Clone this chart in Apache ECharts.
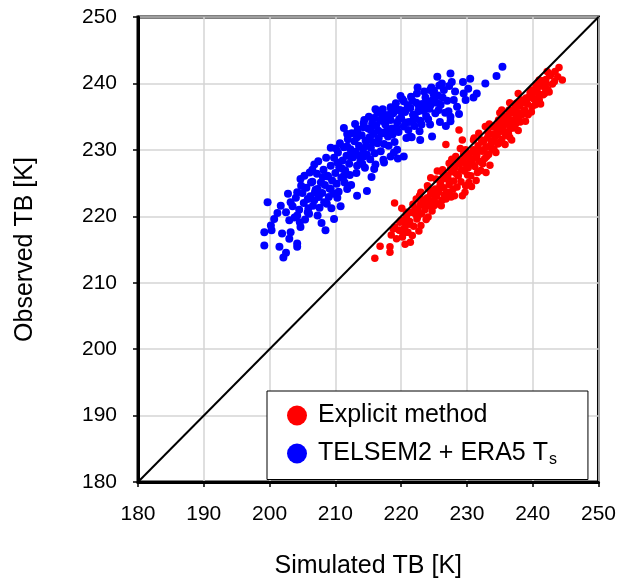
<!DOCTYPE html>
<html>
<head>
<meta charset="utf-8">
<script src="https://cdn.jsdelivr.net/npm/echarts@6/dist/echarts.min.js"></script>
<style>
    html, body { margin: 0; padding: 0; background: #fff; }
    #chart { width: 619px; height: 584px; }
</style>
</head>
<body>
<div id="chart"></div>
<script>
    // axis ticks
    var xTicks = [180, 190, 200, 210, 220, 230, 240, 250];
    var yTicks = [180, 190, 200, 210, 220, 230, 240, 250];

    // 1:1 line
    var diagX = [180, 250];
    var diagY = [180, 250];

    // Explicit method: [simulated, observed]
    var explicitPts = [
        [216, 213.7], [216.8, 215.5], [218.3, 215.4], [218.3, 214.6], [221.4, 216.1], [219, 222],
        [218.8, 218.1], [219.8, 217.9], [220.3, 217.4], [221, 217.6], [220.5, 219.1], [221.3, 220.6],
        [222.5, 221.1], [223, 223.6], [224.5, 225.8], [225.5, 226.8], [226.8, 230.8], [228.8, 233],
        [229.3, 231.5], [229.3, 223.1], [227.3, 223.6], [225.8, 224.1], [223.8, 222.6], [222.5, 219.9],
        [225, 221.6], [226.8, 222.6], [230.3, 225.1], [232.3, 228.1], [233.8, 230], [234.8, 231],
        [236.3, 232.5], [237.8, 234.5], [238.8, 236], [238.3, 237.5], [240.8, 237.3], [241.8, 238.5],
        [242, 240], [242.5, 241.5], [244, 242.4], [244.5, 240.5], [243.3, 240.3], [241, 240.5],
        [239.8, 239], [239.5, 238], [237.8, 238.5], [237.5, 237], [235.3, 236], [234.8, 234.5],
        [233.8, 233.5], [232.8, 233.5], [231.8, 232.5], [231, 231.5], [229.8, 230], [228.3, 229],
        [227.3, 228], [226.3, 227], [225.3, 225.6], [224, 224.6], [222.8, 223.1], [221.8, 221.8],
        [220.8, 220.6], [219.8, 219.1],
        [218.5, 217.2], [219, 218.4], [219.3, 216.6], [219.7, 217.9], [220, 219.4], [220.2, 216.9],
        [220.5, 218.2], [220.8, 220], [221, 217.6], [221.3, 219.2], [221.6, 220.6], [221.9, 218.5],
        [222.1, 221.1], [222.4, 219.6], [222.7, 217.8], [222.9, 221.7],
        [223.1, 220.4], [223.3, 222.3], [223.6, 221], [223.8, 219.5], [224, 222.8], [224.2, 221.6],
        [224.5, 223.4], [224.7, 220.8], [225, 222.5], [225.2, 224.1], [225.5, 221.9], [225.7, 223.6],
        [226, 225], [226.2, 222.4], [226.5, 224.3], [226.7, 225.7],
        [226.9, 223.5], [227.1, 226.2], [227.3, 224.8], [227.6, 222.9], [227.8, 226.7], [228, 225.3],
        [228.2, 227.4], [228.5, 224.4], [228.7, 226.1], [228.9, 227.9], [229.1, 225.2], [229.4, 228.4],
        [229.6, 226.8], [229.8, 224.6], [230, 228.9], [230.2, 227.3],
        [230.4, 229.4], [230.6, 226.1], [230.8, 228.1], [231, 230], [231.2, 227.5], [231.5, 229.1],
        [231.7, 230.6], [231.9, 228.3], [232.1, 226.9], [232.3, 229.8], [232.5, 231.2], [232.7, 228.7],
        [232.9, 230.4], [233.1, 231.8], [233.3, 229.3], [233.5, 227.7], [233.7, 231], [233.9, 232.4],
        [234.1, 230.1], [234.3, 232], [234.5, 233.2], [234.7, 230.9], [234.9, 232.7], [235.1, 234],
        [235.3, 231.6], [235.5, 233.4], [235.7, 234.6], [235.9, 232.2], [236.1, 233.9], [236.3, 235.3],
        [236.5, 231.9], [236.7, 234.5], [236.9, 235.9], [237.1, 233.3], [237.3, 236.3], [237.5, 234.8],
        [237.8, 232.9],
        [238, 236.6], [238.3, 235.2], [238.6, 237.1], [238.9, 234.3], [239.2, 236.9], [239.5, 237.9],
        [239.8, 235.7], [240.1, 238.6], [240.4, 236.8], [240.7, 239.2], [241, 237.5], [241.3, 239.8],
        [241.6, 238.3], [242, 240.6], [242.3, 239.1], [242.7, 241.2], [243, 239.9],
        [221.2, 218.8], [222.2, 220.3], [223.4, 221.9], [224.4, 222.2], [224.9, 223.9], [225.4, 223],
        [225.9, 224.6], [226.4, 225.8], [226.6, 223.2], [227.2, 225.5], [227.5, 227.1], [227.9, 224.1],
        [228.4, 226.4], [228.6, 228.3], [229.2, 227], [229.5, 229.4], [229.9, 227.8], [230.1, 226.2],
        [230.5, 228.6], [230.9, 229.7], [231.3, 228.8], [231.6, 226.6], [231.8, 229.9], [232.2, 231.5],
        [232.4, 227.9], [232.6, 230], [233, 229], [233.2, 232.6], [233.6, 230.7], [234, 231.4],
        [234.2, 233.6], [234.4, 229.6], [234.6, 232.3], [235, 231.2], [235.2, 233], [235.4, 235.1],
        [235.6, 232.8], [235.8, 230.8], [236, 234.3], [236.2, 232.6], [236.4, 236], [236.6, 233.2],
        [236.8, 231.5], [237, 234], [237.2, 235.5], [237.4, 233.9], [237.6, 236.9], [237.9, 235.6],
        [238.1, 234.2], [238.4, 237.4], [238.7, 235.8], [239, 237.8], [239.3, 235.3], [239.6, 238.6],
        [239.9, 236.5], [240.2, 237.6], [240.5, 239.7], [240.9, 238.4], [241.2, 236.9], [241.5, 240.4],
        [241.8, 239.4], [242.2, 241.8], [242.5, 238.7], [243.4, 241.8], [243.8, 241],
        [220.6, 215.8], [221.7, 217.1], [223, 218.6], [224.1, 219.9], [226.1, 221.6], [228.1, 223.1],
        [230.7, 224.5], [232.9, 226.6], [231.4, 225.4], [229.7, 223.6], [226.3, 226.6], [227.7, 228.6],
        [229, 230.2], [231.1, 231.8], [233.4, 233.9], [235, 235.6], [236.5, 237.1], [220.1, 221.2],
        [222.3, 222.6], [224.1, 224.2]
    ];

    // TELSEM2 + ERA5 Ts: [simulated, observed]
    var telsemPts = [
        [235.4, 242.5], [234.5, 241.1], [232.8, 240], [230.5, 240.7], [229.4, 240.2], [227.5, 241.5],
        [227.7, 240.2], [225.5, 241], [226.2, 240], [224.4, 239], [224.9, 238.5], [222.4, 238.5],
        [220.4, 237.3], [223.4, 236.8], [225.7, 236], [227.2, 235.8], [228.5, 236.5], [229.5, 238.5],
        [231.5, 238.5], [229.8, 237.5], [228, 237.5], [227.5, 234.3], [224.7, 232], [222.9, 231.5],
        [221.4, 232], [224.4, 233.8], [221.9, 234.5], [219.9, 235.8], [218.4, 234.5], [217.4, 235.3],
        [215.9, 234.8], [214.3, 234], [217.4, 232.5], [216.4, 231], [215.4, 233], [213.3, 232.5],
        [211.3, 233.3], [211.8, 230.5], [209.3, 230.3], [212.3, 229], [214.3, 229], [218.4, 229],
        [219.4, 230], [220.4, 229], [215.9, 227.1], [217.4, 228.1], [213.3, 227.6], [210.3, 228.1],
        [211.3, 226.1], [208.8, 226.1], [206.8, 227.8], [204.7, 225.6], [206.3, 225.1], [207.3, 224.1],
        [209.3, 224.1], [211.8, 224.1], [214.8, 223.8], [213.3, 223.1], [210.3, 222.8], [208.3, 222.1],
        [205.8, 222.6], [204.2, 223.6], [203.2, 222.1], [201.7, 221.6], [199.7, 222.1], [200.7, 219.6],
        [202.5, 220.6], [204.2, 220.1], [205.8, 220.6], [207.3, 220.1], [209.8, 219.6], [200.2, 218.6],
        [199.2, 217.6], [200.3, 217.9], [201.9, 217.4], [203.2, 217.6], [204.7, 218.4], [208.5, 217.9],
        [203, 216.6], [204.2, 215.9], [201.5, 215.4], [199.2, 215.6], [202.5, 214.5], [202.1, 213.8],
        [204.2, 215.4],
        [203.5, 221.5], [204, 222.8], [204.5, 221], [205, 223.5], [205.2, 222], [205.6, 224.3],
        [205.9, 221.2], [206.2, 223], [206.5, 225.2], [206.8, 222.4], [204.8, 224.6], [203.8, 219.8],
        [205.4, 219.5], [206, 220.4],
        [207, 224], [207.2, 226.4], [207.5, 222.9], [207.8, 225.1], [208, 223.5], [208.2, 227],
        [208.4, 224.7], [208.7, 221.9], [208.9, 226], [209.1, 224.2], [209.3, 227.6], [209.5, 225.4],
        [207.4, 228.3], [206.5, 227],
        [209.8, 228.8], [210, 226.5], [210.2, 224.9], [210.4, 229.6], [210.6, 227.4], [210.9, 225.8],
        [211.1, 228.4], [211.3, 230.4], [211.5, 226.9], [211.7, 229.1], [211.9, 231.6], [212.1, 227.9],
        [212.3, 230.1], [212.5, 232.5], [210.7, 231],
        [212.7, 228.9], [212.9, 231.3], [213.1, 229.7], [213.4, 233.1], [213.6, 230.6], [213.8, 228.2],
        [214, 232.2], [214.2, 230.1], [214.4, 234.5], [214.6, 231.4], [214.8, 229.3], [215, 233.2],
        [215.2, 231.9], [213.2, 226.5], [214.5, 227.3],
        [215.4, 230.3], [215.6, 234], [215.8, 232.4], [216, 229.5], [216.2, 233.7], [216.4, 235.6],
        [216.6, 231.8], [216.8, 234.4], [217, 232.6], [217.2, 236.1], [217.4, 230.9], [217.6, 233.8],
        [217.8, 235.2], [218, 232], [216.1, 227.8], [217.3, 228.5],
        [218.2, 234.6], [218.4, 236.4], [218.6, 233.2], [218.8, 235.5], [219, 231.2], [219.2, 237],
        [219.4, 234.1], [219.6, 232.7], [219.8, 236], [220, 234.8], [220.2, 237.6], [220.4, 233.5],
        [220.6, 235.7], [220.8, 231.8], [218.9, 229.6], [219.5, 228.7],
        [221, 236.7], [221.2, 234.2], [221.5, 238], [221.8, 235.3], [222, 233.6], [222.3, 237.1],
        [222.6, 235.8], [222.9, 234.4], [223.2, 236.9], [223.5, 238.8], [223.8, 235.1], [224, 237.3],
        [221.6, 231.9], [222.8, 232.8],
        [224.3, 236.2], [224.6, 239.4], [224.9, 237.6], [225.2, 235.5], [225.6, 238.2], [226, 236.8],
        [226.5, 239], [227, 237.4], [227.5, 235], [226.8, 233.6], [225.9, 234.2],
        [205.3, 226.1], [206.1, 226.6], [206.9, 223.6], [207.6, 221.3], [208.1, 225.9], [208.6, 228.8],
        [209, 222.9], [209.7, 223.4], [210.1, 230.2], [210.5, 223.7], [211, 227.2], [211.4, 225.1],
        [211.8, 232.4], [212.2, 226.2], [212.6, 229.4], [213, 233.9], [213.3, 231.9], [213.7, 229.1],
        [214.1, 227.9], [214.3, 233.4], [214.7, 230.6], [215.1, 235], [215.3, 228.6], [215.7, 231.2],
        [216.1, 236.1], [216.5, 232.9], [216.9, 229.8], [217.1, 235.1], [217.5, 234.2], [217.9, 233.1],
        [218.1, 230.6], [218.5, 235.8], [218.7, 232.3], [219.1, 236.3], [219.3, 233.3], [219.7, 234.6],
        [219.9, 238.1], [220.3, 235.9], [220.7, 234.1], [221.1, 233], [221.4, 236.3], [221.7, 237.4],
        [222.1, 234.9], [222.5, 239.4], [222.7, 236.6], [223.1, 233.8], [223.4, 235.9], [223.7, 237.9],
        [224.1, 234.6], [224.5, 236.8], [225, 238.9], [225.4, 237.1], [225.8, 239.7], [226.3, 237.9],
        [226.7, 235.6], [227.3, 239.6], [228.2, 238.8], [228.8, 235.4], [230.2, 239.2], [231, 237.9],
        [203, 219.4], [204.6, 219.1], [206.6, 221.6], [207.9, 219], [209.4, 221.2], [210.8, 221.5],
        [212.4, 224.7], [201.2, 220.5], [202.8, 223.4], [215.5, 225.9]
    ];

    var font = 'Arial, "Liberation Sans", sans-serif';
    var chart = echarts.init(document.getElementById('chart'));

    chart.setOption({
        animation: false,
        backgroundColor: '#fff',
        textStyle: {fontFamily: font, color: '#000'},
        grid: {
            left: 138,
            right: 19,
            top: 17,
            bottom: 102,
            show: true,
            borderColor: '#000',
            borderWidth: 3
        },
        legend: {
            orient: 'vertical',
            left: 267,
            top: 391,
            padding: [12, 31, 12, 20],
            itemWidth: 20,
            itemHeight: 20,
            itemGap: 13,
            borderColor: '#000',
            borderWidth: 1,
            backgroundColor: '#fff',
            data: [
                {name: 'Explicit method', icon: 'circle'},
                {name: 'TELSEM2', icon: 'circle'}
            ],
            formatter: function (name) {
                if (name === 'TELSEM2') {
                    return '{a|TELSEM2 + ERA5 T}{s|s}';
                }
                return '{a|' + name + '}';
            },
            textStyle: {
                fontFamily: font,
                color: '#000',
                fontSize: 25,
                rich: {
                    a: {fontSize: 25, fontFamily: font, color: '#000', padding: [0, 0, 0, 6]},
                    s: {fontSize: 16, fontFamily: font, color: '#000', verticalAlign: 'bottom', padding: [12, 0, 0, 1]}
                }
            }
        },
        xAxis: {
            type: 'value',
            min: xTicks[0],
            max: xTicks[xTicks.length - 1],
            interval: 10,
            name: 'Simulated TB [K]',
            nameLocation: 'middle',
            nameGap: 72,
            nameTextStyle: {fontSize: 25, fontFamily: font, color: '#000'},
            axisLine: {lineStyle: {color: '#000', width: 3}},
            axisTick: {show: true, inside: false, length: 5, lineStyle: {color: '#000', width: 1.5}},
            axisLabel: {fontSize: 21, fontFamily: font, color: '#000', margin: 22},
            splitLine: {show: true, lineStyle: {color: '#d4d4d4', width: 1.5}}
        },
        yAxis: {
            type: 'value',
            min: yTicks[0],
            max: yTicks[yTicks.length - 1],
            interval: 10,
            name: 'Observed TB [K]',
            nameLocation: 'middle',
            nameGap: 100,
            nameTextStyle: {fontSize: 25, fontFamily: font, color: '#000'},
            axisLine: {lineStyle: {color: '#000', width: 3}},
            axisTick: {show: true, inside: false, length: 5, lineStyle: {color: '#000', width: 1.5}},
            axisLabel: {fontSize: 21, fontFamily: font, color: '#000', margin: 21},
            splitLine: {show: true, lineStyle: {color: '#d4d4d4', width: 1.5}}
        },
        series: [
            {
                name: 'Explicit method',
                type: 'scatter',
                symbol: 'circle',
                symbolSize: 7.5,
                itemStyle: {color: '#ff0000', opacity: 1},
                data: explicitPts,
                z: 2
            },
            {
                name: 'TELSEM2',
                type: 'scatter',
                symbol: 'circle',
                symbolSize: 8,
                itemStyle: {color: '#0000ff', opacity: 1},
                data: telsemPts,
                z: 2
            },
            {
                name: '1:1',
                type: 'line',
                symbol: 'none',
                silent: true,
                lineStyle: {color: '#000', width: 2},
                data: diagX.map(function (x, i) { return [x, diagY[i]]; }),
                z: 3
            }
        ]
    });
</script>
</body>
</html>
